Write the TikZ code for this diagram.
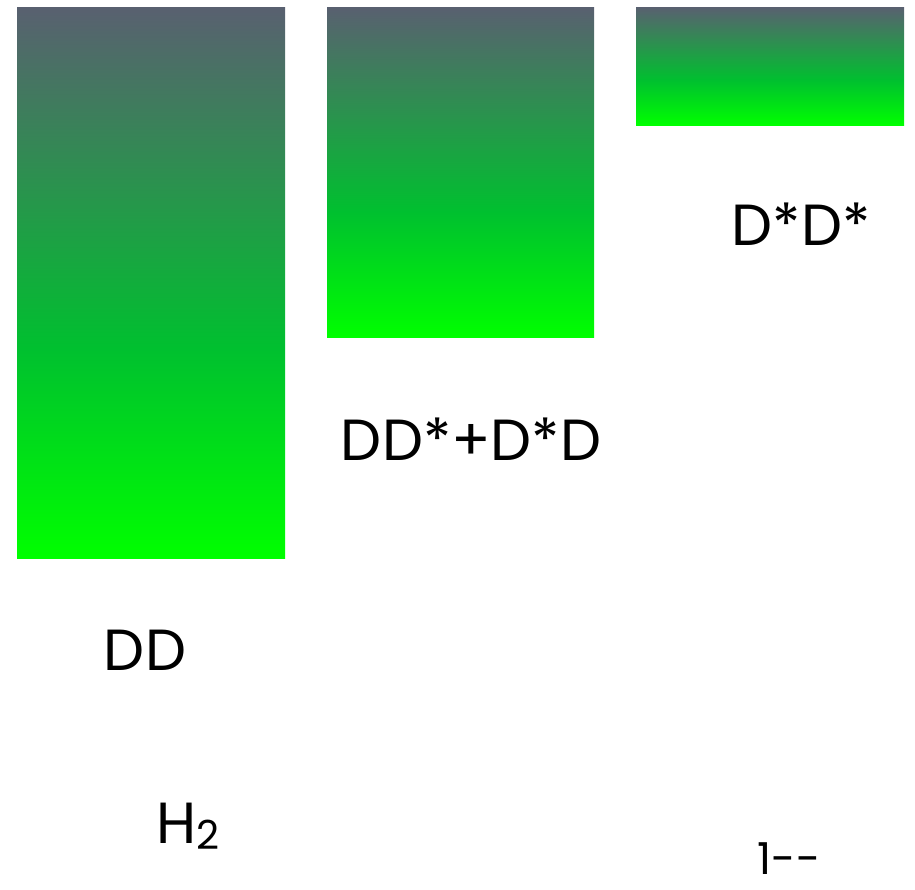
\documentclass[tikz,border=0pt]{standalone}
\usepackage{fontspec}
\setmainfont{Poppins}
\definecolor{topc}{RGB}{89,96,112}
\definecolor{midc}{RGB}{0,192,47}
\definecolor{botc}{RGB}{0,255,0}
\pgfdeclareverticalshading{barshade}{100bp}{color(0bp)=(botc); color(25bp)=(botc); color(44bp)=(midc); color(75bp)=(topc); color(100bp)=(topc)}
\tikzset{
  bar/.style={shading=barshade, inner sep=0pt, outer sep=0pt, anchor=north west, draw=none},
  lbl/.style={anchor=base, inner sep=0pt, font=\fontsize{58}{60}\selectfont},
}
\begin{document}
\begin{tikzpicture}[x=1pt,y=-1pt]
\useasboundingbox (0,0) rectangle (915,889);
\node[bar, minimum width=268pt, minimum height=551pt] (b1) at (17,7) {};
\node[bar, minimum width=267pt, minimum height=330pt] (b2) at (327,7) {};
\node[bar, minimum width=268pt, minimum height=118pt] (b3) at (636,7) {};
\node[lbl] (dd) at (145,670) {DD};
\node[lbl] (ddst) at (471,460) {DD*+D*D};
\node[lbl] (dsds) at (801,245) {D*D*};
\node[lbl] (h2) at (188,843) {H\raisebox{-0.12em}{\fontsize{40}{42}\selectfont 2}};
\node[lbl, text depth=0pt, font=\fontsize{44}{46}\selectfont] (jpc) at (789,874) {1{-}{-}};
\end{tikzpicture}
\end{document}
